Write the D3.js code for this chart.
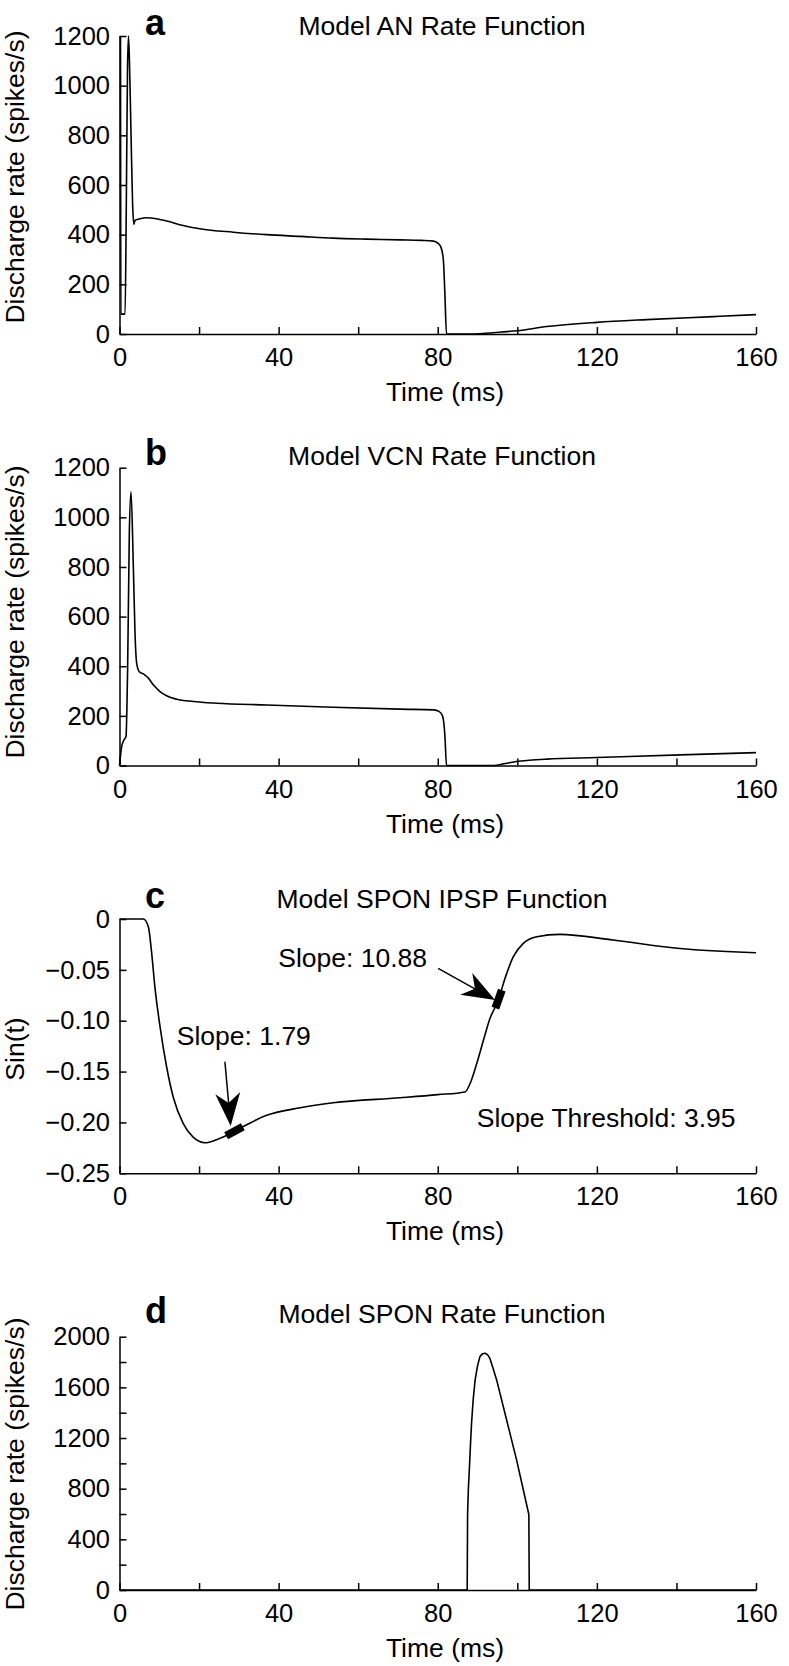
<!DOCTYPE html>
<html><head><meta charset="utf-8">
<script src="https://cdn.jsdelivr.net/npm/d3@7"></script>
<style>
body{margin:0;background:#fff}
svg{display:block;background:#fff}
text{font-family:"Liberation Sans",Arial,Helvetica,sans-serif;fill:#000}
</style>
</head><body>
<svg id="chart" width="789" height="1666"></svg>
<script>
// ---------- data ----------
const timeTicks = [0,20,40,60,80,100,120,140,160];
const timeLabels = [0,40,80,120,160];

const rateTicksAB = [0,200,400,600,800,1000,1200];
const ipspTicks = [0,-0.05,-0.10,-0.15,-0.20,-0.25];
const ipspTickLabels = ["0","\u22120.05","\u22120.10","\u22120.15","\u22120.20","\u22120.25"];
const sponTicks = [0,200,400,600,800,1000,1200,1400,1600,1800,2000];
const sponTickLabels = [0,400,800,1200,1600,2000];

// (a) Model AN rate function
const anTime = [0.25,0.35,1.4,1.7,2.0,2.25,2.5,2.9,3.3,3.6,3.9,5.15,6.8,9.3,11.85,16,20.2,28.6,37,45.4,53.7,62.1,70.5,76,78.9,80.0,80.8,81.4,81.8,82.2,88,92,96,100,107.4,120,132.5,149.3,160];
const anRate = [1200,80,80,500,1050,1200,1100,800,520,442,457,464,468,464,455,437,424,410,400,393,386,382,379,377,374,366,350,300,160,0,0,3,8,13,30,47,58,70,78];

// (b) Model VCN rate function
const vcnTime = [0,0.55,1.13,1.63,2.05,2.47,2.89,3.48,3.9,4.32,4.99,5.99,7.25,8.5,10.17,11.85,14.36,18.55,24.4,37,53.7,70.5,79,80.3,81.2,81.8,82.2,94,97,99.8,103,107.4,120,141,160];
const vcnRate = [0,77,103,117,399,936,1103,801,533,412,378,369,352,325,298,281,267,258,251,244,235,227,224,218,200,120,0,0,8,16,21,25.5,32,43,52];

// (c) Model SPON IPSP function
const ipspTime = [0,6.0,7.25,8.1,8.9,10.2,11.85,13.5,16.0,18.5,21.5,24.4,27.8,31.1,37,45.4,53.7,70.5,80,86.85,88.1,89.8,91.5,93.1,95.2,96.9,99,101.5,104.9,110.7,124.1,140.9,160];
const ipspValue = [0,0,-0.0076,-0.034,-0.067,-0.106,-0.1455,-0.175,-0.201,-0.2145,-0.220,-0.217,-0.211,-0.204,-0.193,-0.1856,-0.1807,-0.1758,-0.1727,-0.170,-0.162,-0.142,-0.119,-0.098,-0.080,-0.0585,-0.037,-0.024,-0.0174,-0.0151,-0.0207,-0.029,-0.0332];

// slope annotations on (c)
const slopeText = ["Slope: 1.79","Slope: 10.88"];
const slopeTextT = [14.4, 39.9];
const slopeTextV = [-0.1239, -0.0469];
const slopeMarkT = [28.9, 95.3];
const arrowTailT = [26.5, 80.1];
const arrowTailV = [-0.1403, -0.0485];
const arrowTipT = [27.95, 94.4];
const arrowTipV = [-0.2035, -0.0796];
const thresholdText = "Slope Threshold: 3.95";
const thresholdT = 89.8;
const thresholdV = -0.2042;

// (d) Model SPON rate function
const sponTime = [0,87.4,87.5,87.7,87.9,88.2,88.5,88.9,89.4,90.0,90.6,91.3,91.9,92.5,93.1,93.9,94.8,97.3,99.8,102.9,103.0,160];
const sponRate = [0,0,596,800,924,1130,1318,1500,1659,1770,1843,1866,1869,1858,1829,1750,1659,1344,1029,596,0,0];

// ---------- layout ----------
const svg = d3.select("#chart");
const X0 = 119.5, X1 = 756;
const x = d3.scaleLinear().domain([0,160]).range([X0,X1]);
const TICK_FS = 25.5, LABEL_FS = 26.5;

const panels = [
  {letter:"a", title:"Model AN Rate Function", top:36, bottom:334, domain:[0,1200],
   ticks:rateTicksAB, labels:rateTicksAB, fmt:d=>String(d), t:anTime, v:anRate, curve:d3.curveMonotoneX,
   ylab:"Discharge rate (spikes/s)", ylabY:177, letterY:35},
  {letter:"b", title:"Model VCN Rate Function", top:467.7, bottom:765.5, domain:[0,1200],
   ticks:rateTicksAB, labels:rateTicksAB, fmt:d=>String(d), t:vcnTime, v:vcnRate, curve:d3.curveMonotoneX,
   ylab:"Discharge rate (spikes/s)", ylabY:612, letterY:465},
  {letter:"c", title:"Model SPON IPSP Function", top:919, bottom:1173.3, domain:[-0.25,0],
   ticks:ipspTicks, labels:ipspTicks, fmt:d=>ipspTickLabels[ipspTicks.findIndex(q=>Math.abs(q-d)<1e-9)], t:ipspTime, v:ipspValue, curve:d3.curveMonotoneX,
   ylab:"Sin(t)", ylabY:1049, letterY:908.3},
  {letter:"d", title:"Model SPON Rate Function", top:1336.7, bottom:1590, domain:[0,2000],
   ticks:sponTicks, labels:sponTickLabels, fmt:d=>String(d), t:sponTime, v:sponRate, curve:d3.curveLinear,
   ylab:"Discharge rate (spikes/s)", ylabY:1464, letterY:1322.5}
];

function styleAxis(g){
  g.attr("font-family",null).attr("font-size",null);
  g.selectAll(".domain").attr("stroke","#000").attr("stroke-width",1.5);
  g.selectAll(".tick line").attr("stroke","#000").attr("stroke-width",1.5);
  g.selectAll(".tick text").attr("font-size",TICK_FS).attr("fill","#000");
}

panels.forEach((p,i)=>{
  const y = d3.scaleLinear().domain(p.domain).range([p.bottom,p.top]);
  p.y = y;
  const g = svg.append("g");

  // x axis
  g.append("g").attr("transform",`translate(0,${p.bottom})`)
    .call(d3.axisBottom(x).tickValues(timeTicks).tickSize(-7).tickSizeOuter(0).tickPadding(14)
      .tickFormat(d=>timeLabels.includes(d)?String(d):""))
    .call(styleAxis);

  // y axis
  g.append("g").attr("transform",`translate(${X0},0)`)
    .call(d3.axisLeft(y).tickValues(p.ticks).tickSize(-7).tickSizeOuter(0).tickPadding(9.5)
      .tickFormat(d=>p.labels.some(q=>Math.abs(q-d)<1e-9)?p.fmt(d):""))
    .call(styleAxis);

  // curve
  const line = d3.line().x((d,k)=>x(p.t[k])).y((d,k)=>y(p.v[k])).curve(p.curve);
  g.append("path").datum(p.t).attr("d",line)
    .attr("fill","none").attr("stroke","#000").attr("stroke-width",1.6).attr("stroke-linejoin","round");

  // panel letter
  g.append("text").attr("x",145).attr("y",p.letterY).attr("font-size",36).attr("font-weight","bold").text(p.letter);
  // title
  g.append("text").attr("x",442).attr("y",p.letterY).attr("text-anchor","middle").attr("font-size",LABEL_FS).text(p.title);
  // x label
  g.append("text").attr("x",445).attr("y",p.bottom+67).attr("text-anchor","middle").attr("font-size",LABEL_FS).text("Time (ms)");
  // y label
  g.append("text").attr("transform",`translate(24,${p.ylabY}) rotate(-90)`).attr("text-anchor","middle")
    .attr("font-size",LABEL_FS).text(p.ylab);
});

// ---------- annotations on panel c ----------
const pc = panels[2];
const yc = pc.y;
function interp(t){
  for(let k=0;k<ipspTime.length-1;k++){
    if(t>=ipspTime[k] && t<=ipspTime[k+1]){
      const f=(t-ipspTime[k])/(ipspTime[k+1]-ipspTime[k]);
      return ipspValue[k]+f*(ipspValue[k+1]-ipspValue[k]);
    }
  }
  return ipspValue[ipspValue.length-1];
}
const ann = svg.append("g");
slopeText.forEach((s,i)=>{
  ann.append("text").attr("x",x(slopeTextT[i])).attr("y",yc(slopeTextV[i])).attr("font-size",LABEL_FS).text(s);

  // tangent marker
  const mt = slopeMarkT[i];
  const p1=[x(mt-0.6),yc(interp(mt-0.6))], p2=[x(mt+0.6),yc(interp(mt+0.6))];
  let dx=p2[0]-p1[0], dy=p2[1]-p1[1]; const L=Math.hypot(dx,dy); dx/=L; dy/=L;
  const cx=x(mt), cy=yc(interp(mt)), half=9.5;
  ann.append("line").attr("x1",cx-dx*half).attr("y1",cy-dy*half).attr("x2",cx+dx*half).attr("y2",cy+dy*half)
    .attr("stroke","#000").attr("stroke-width",8);

  // arrow
  const tail=[x(arrowTailT[i]),yc(arrowTailV[i])], tip=[x(arrowTipT[i]),yc(arrowTipV[i])];
  let ux=tip[0]-tail[0], uy=tip[1]-tail[1]; const ul=Math.hypot(ux,uy); ux/=ul; uy/=ul;
  const nx=-uy, ny=ux;
  const HL=33, HW=12.5, HN=23;
  const notch=[tip[0]-ux*HN, tip[1]-uy*HN];
  ann.append("line").attr("x1",tail[0]).attr("y1",tail[1]).attr("x2",notch[0]).attr("y2",notch[1])
    .attr("stroke","#000").attr("stroke-width",1.5);
  const pts=[tip,
    [tip[0]-ux*HL+nx*HW, tip[1]-uy*HL+ny*HW],
    notch,
    [tip[0]-ux*HL-nx*HW, tip[1]-uy*HL-ny*HW]];
  ann.append("path").attr("d","M"+pts.map(q=>q.join(",")).join("L")+"Z").attr("fill","#000");
});
ann.append("text").attr("x",x(thresholdT)).attr("y",yc(thresholdV)).attr("font-size",LABEL_FS).text(thresholdText);
</script>
</body></html>
